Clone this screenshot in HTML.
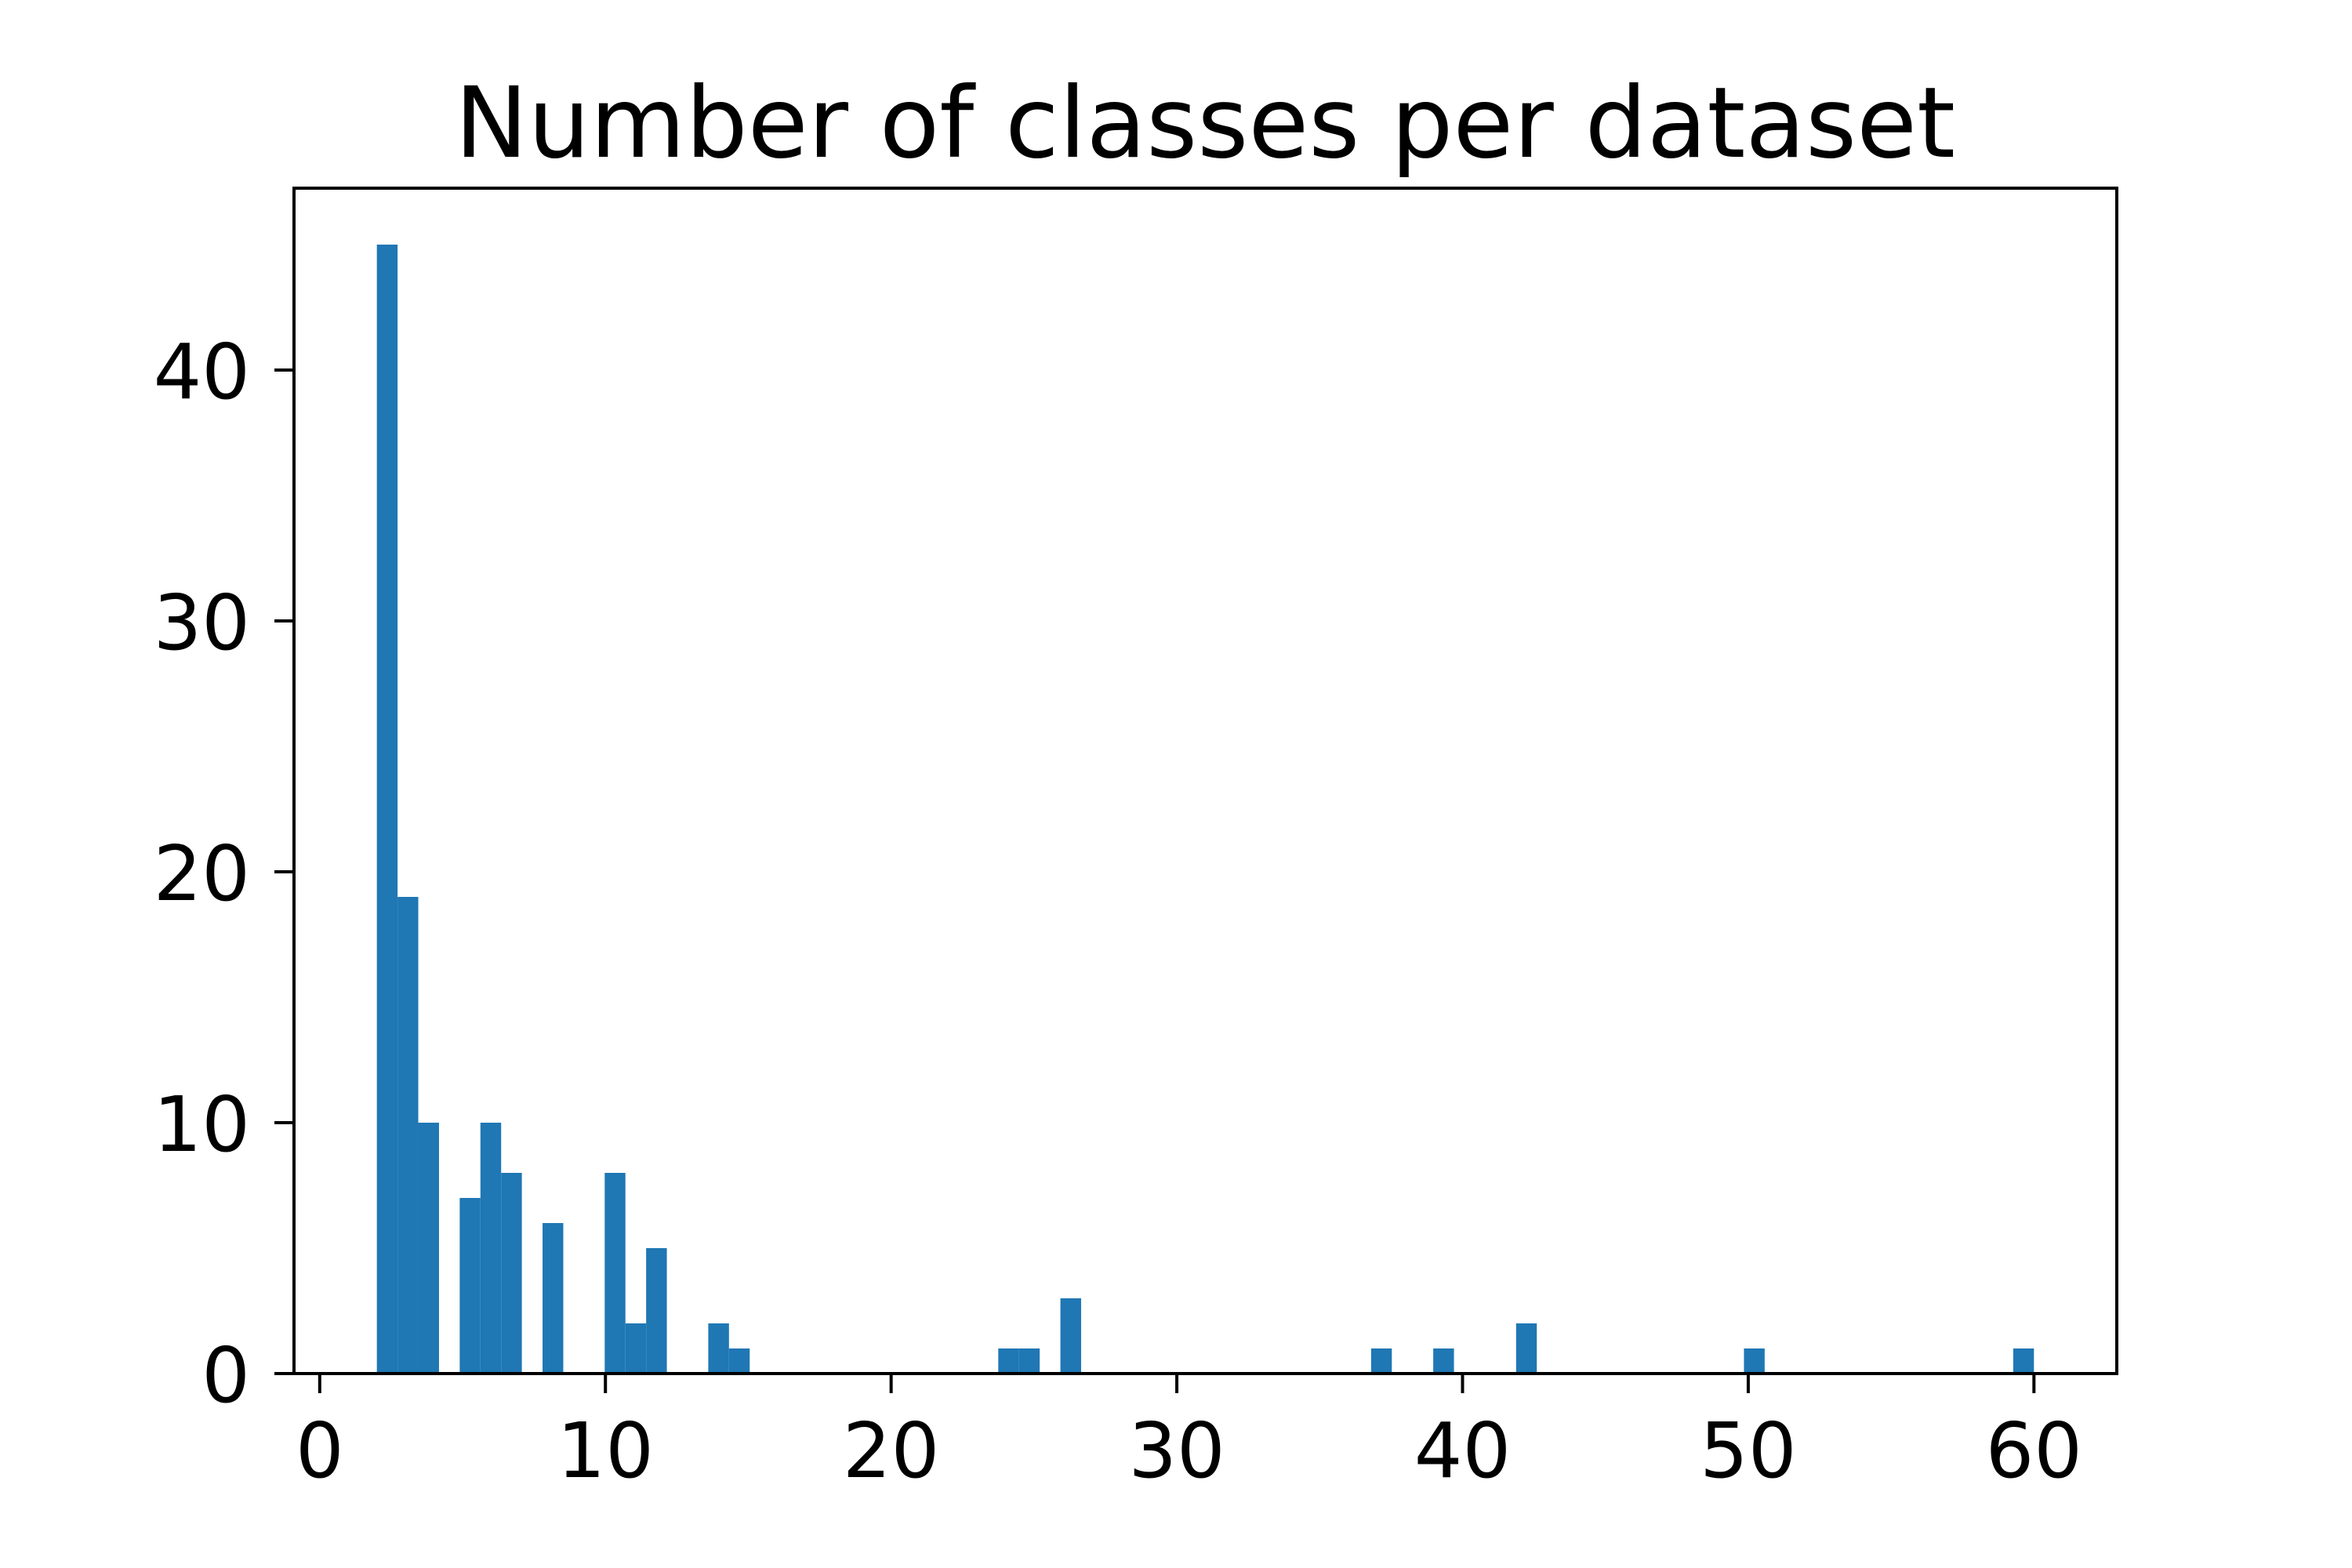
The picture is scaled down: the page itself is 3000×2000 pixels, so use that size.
<!DOCTYPE html>
<html><head><meta charset="utf-8"><style>
html,body{margin:0;padding:0;background:#fff}
svg{display:block}
text{font-family:"DejaVu Sans","Liberation Sans",sans-serif;fill:#000}
</style></head><body>
<svg id="chart" width="3000" height="2000" viewBox="0 0 3000 2000">
<rect width="3000" height="2000" fill="#fff"/>
<text x="1537" y="200" font-size="125" text-anchor="middle">Number of classes per dataset</text>
<g id="bars"></g>
<g id="axes"></g>
</svg>
<script>
const classValues = [2,3,4,5,6,7,8,10,11,12,14,15,24,25,26,37,39,42,50,60];
const classCounts = [45,19,10,7,10,8,6,8,2,5,2,1,1,1,3,1,1,2,1,1];
const xTicks = [0,10,20,30,40,50,60];
const yTicks = [0,10,20,30,40];
const nBins = 80;

const L=375,R=2700,T=240,B=1752;
const xmin=Math.min(...classValues), xmax=Math.max(...classValues);
const xr=xmax-xmin, x0=xmin-0.05*xr, x1=xmax+0.05*xr;
const X=v=>L+(v-x0)/(x1-x0)*(R-L);
const bw=(xmax-xmin)/nBins;
const bins=new Array(nBins).fill(0);
classValues.forEach((v,i)=>{let b=Math.floor((v-xmin)/bw);if(b>=nBins)b=nBins-1;bins[b]+=classCounts[i];});
const ymax=Math.max(...bins)*1.05;
const Y=v=>B-v/ymax*(B-T);
const NS='http://www.w3.org/2000/svg';
const bars=document.getElementById('bars'), axes=document.getElementById('axes');
function mk(tag,attrs,parent){const e=document.createElementNS(NS,tag);for(const k in attrs)e.setAttribute(k,attrs[k]);parent.appendChild(e);return e;}
bins.forEach((c,i)=>{
  if(!c)return;
  const a=xmin+i*bw;
  const r=mk('rect',{x:X(a),y:Y(c),width:X(a+bw)-X(a),height:B-Y(c),fill:'#1f77b4'},bars);
  
  
});
const frame=mk('rect',{x:L,y:T,width:R-L,height:B-T,fill:'none',stroke:'#000','stroke-width':4},axes);


xTicks.forEach(t=>{
  const x=X(t);
  const l=mk('line',{x1:x,x2:x,y1:B,y2:B+25,stroke:'#000','stroke-width':4},axes);
  
  
  const tx=mk('text',{x:x,y:B+132,'font-size':97,'text-anchor':'middle'},axes);
  tx.textContent=t;
  
  
});
yTicks.forEach(t=>{
  const y=Y(t);
  const l=mk('line',{x1:L-25,x2:L,y1:y,y2:y,stroke:'#000','stroke-width':4},axes);
  
  
  const tx=mk('text',{x:L-56,y:y+36,'font-size':97,'text-anchor':'end'},axes);
  tx.textContent=t;
  
  
});
</script>
</body></html>
